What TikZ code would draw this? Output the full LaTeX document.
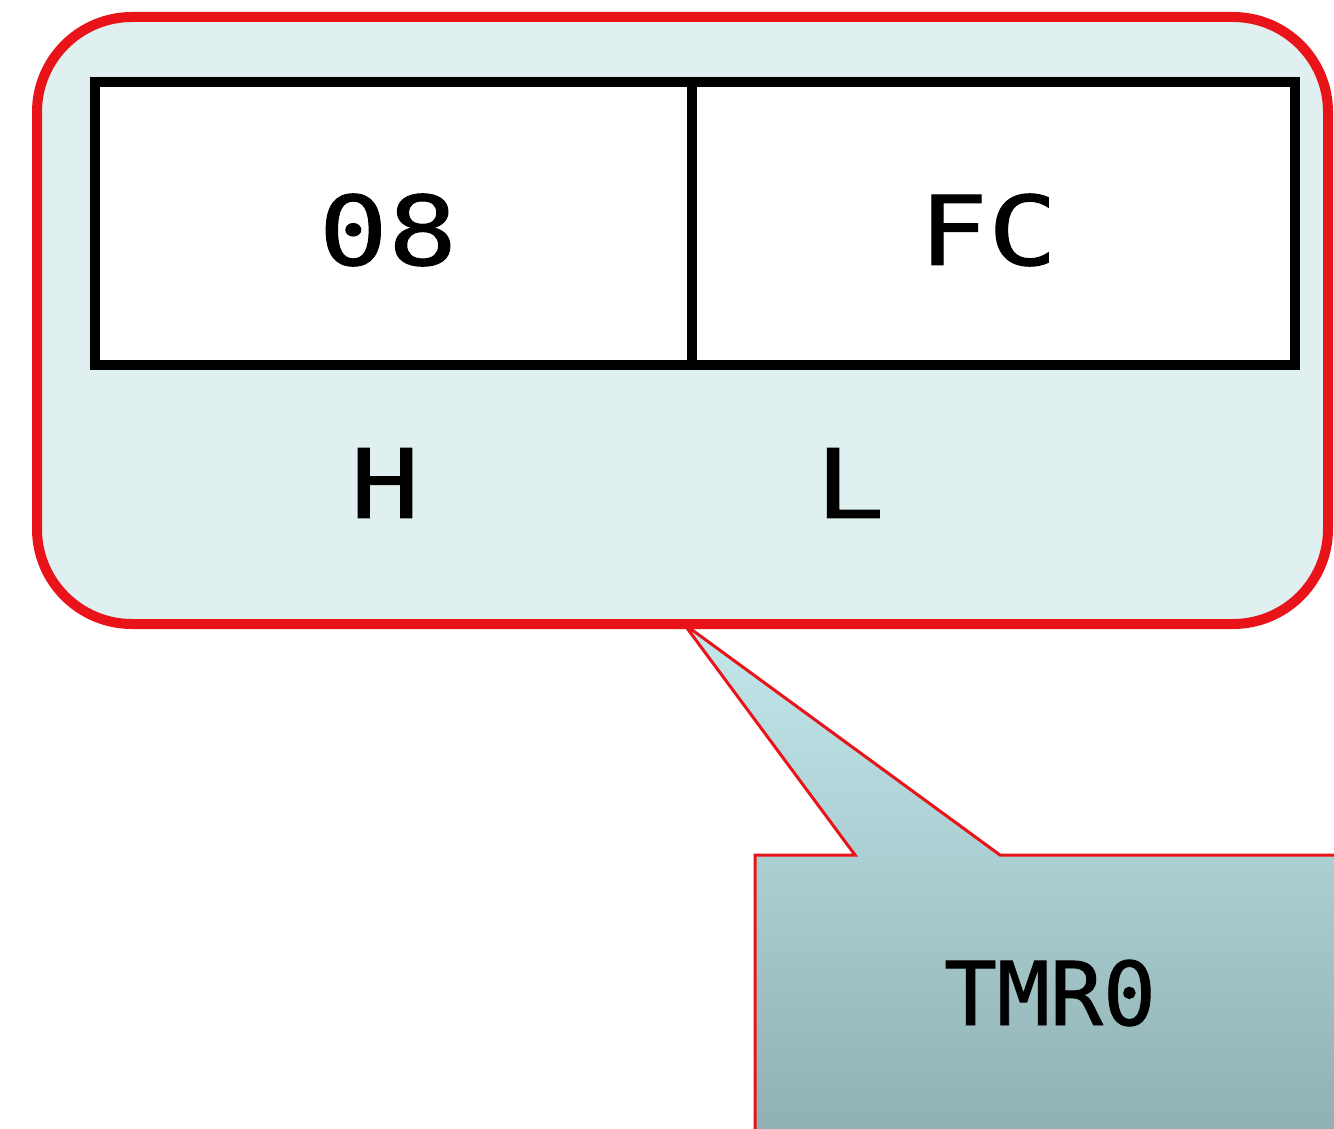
\documentclass[tikz,border=0pt]{standalone}
\usepackage{fontspec}
\newfontfamily\regfont[FakeStretch=1.2, FakeBold=1]{DejaVu Sans Mono}
\newfontfamily\callfont[FakeBold=1]{DejaVu Sans Mono}
\definecolor{outerred}{HTML}{E8141A}
\definecolor{panelfill}{HTML}{E0F0F0}
\definecolor{calltop}{HTML}{C2E8EC}
\definecolor{callbot}{HTML}{8FB0B2}
\tikzset{
  regbox/.style={draw=black, line width=10pt, fill=white, minimum height=283pt, inner sep=0pt},
  bigtxt/.style={font=\regfont\fontsize{96}{110}\selectfont, inner sep=0pt},
  calltxt/.style={font=\callfont\fontsize{88}{100}\selectfont, inner sep=0pt},
}
\begin{document}
\begin{tikzpicture}[x=1pt,y=-1pt]
\useasboundingbox (0,0) rectangle (1334,1129);
\fill[white] (0,0) rectangle (1334,1129);
% callout with tail
\begin{scope}
\clip (0,0) rectangle (1334,1129);
\shade[top color=calltop, bottom color=callbot, draw=outerred, line width=3pt, line join=miter]
  (755,1140) -- (755,855) -- (855,855) -- (684,624) -- (1000,855) -- (1345,855) -- (1345,1140) -- cycle;
\end{scope}
% outer rounded panel
\draw[outerred, line width=10pt, fill=panelfill, rounded corners=95pt]
  (37,17) rectangle (1328,624);
% register boxes
\node[regbox, minimum width=597pt] (hbox) at (393.5,223.5) {};
\node[regbox, minimum width=603pt] (lbox) at (993.5,223.5) {};
\node[bigtxt] (hval) at (388,230) {08};
\node[bigtxt] (lval) at (988,230) {FC};
\node[bigtxt] (hlab) at (385,483) {H};
\node[bigtxt] (llab) at (850,483) {L};
\node[calltxt] (tmr) at (1050,993) {TMR0};
\end{tikzpicture}
\end{document}
